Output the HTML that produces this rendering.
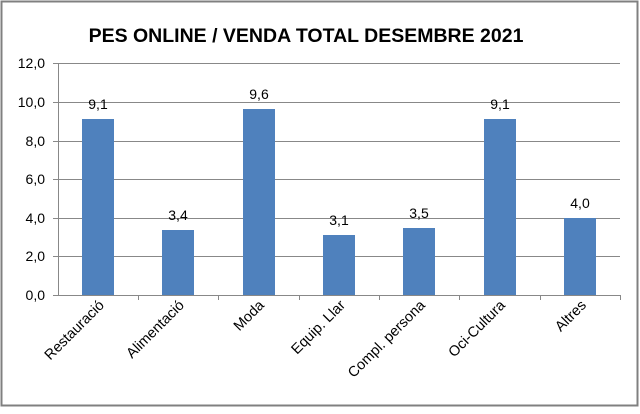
<!DOCTYPE html><html><head><style>body{margin:0;background:#fff}</style></head><body>
<svg width="640" height="409" xmlns="http://www.w3.org/2000/svg" font-family="Liberation Sans, sans-serif">
<rect x="1.5" y="1.5" width="636" height="404" fill="#fff" stroke="#808080" stroke-width="2"/>
<text x="306" y="42" text-anchor="middle" font-size="19.5" font-weight="bold">PES ONLINE / VENDA TOTAL DESEMBRE 2021</text>
<g stroke="#888" stroke-width="1">
<line x1="53" y1="63.5" x2="620" y2="63.5"/><line x1="53" y1="102.5" x2="620" y2="102.5"/><line x1="53" y1="141.5" x2="620" y2="141.5"/><line x1="53" y1="179.5" x2="620" y2="179.5"/><line x1="53" y1="218.5" x2="620" y2="218.5"/><line x1="53" y1="256.5" x2="620" y2="256.5"/><line x1="53" y1="295.5" x2="620" y2="295.5"/>
<line x1="58.5" y1="63" x2="58.5" y2="295"/>
<line x1="138.5" y1="295" x2="138.5" y2="300"/><line x1="218.5" y1="295" x2="218.5" y2="300"/><line x1="299.5" y1="295" x2="299.5" y2="300"/><line x1="379.5" y1="295" x2="379.5" y2="300"/><line x1="459.5" y1="295" x2="459.5" y2="300"/><line x1="540.5" y1="295" x2="540.5" y2="300"/><line x1="620.5" y1="295" x2="620.5" y2="300"/>
</g>
<g font-size="14" text-anchor="end"><text x="45" y="68">12,0</text><text x="45" y="107">10,0</text><text x="45" y="146">8,0</text><text x="45" y="184">6,0</text><text x="45" y="223">4,0</text><text x="45" y="261">2,0</text><text x="45" y="300">0,0</text></g>
<g fill="#4f81bd">
<rect x="82" y="119" width="32" height="176"/>
<rect x="162" y="230" width="32" height="65"/>
<rect x="243" y="109" width="32" height="186"/>
<rect x="323" y="235" width="32" height="60"/>
<rect x="403" y="228" width="32" height="67"/>
<rect x="484" y="119" width="32" height="176"/>
<rect x="564" y="218" width="32" height="77"/>
</g>
<g font-size="14" text-anchor="middle"><text x="98" y="109">9,1</text><text x="178" y="220">3,4</text><text x="259" y="99">9,6</text><text x="339" y="225">3,1</text><text x="419" y="218">3,5</text><text x="500" y="109">9,1</text><text x="580" y="208">4,0</text></g>
<g font-size="14.5" text-anchor="end">
<text transform="translate(105,306) rotate(-45)">Restauració</text>
<text transform="translate(185,306) rotate(-45)">Alimentació</text>
<text transform="translate(265,306) rotate(-45)">Moda</text>
<text transform="translate(346,306) rotate(-45)">Equip. Llar</text>
<text transform="translate(426,306) rotate(-45)">Compl. persona</text>
<text transform="translate(506,306) rotate(-45)">Oci-Cultura</text>
<text transform="translate(587,306) rotate(-45)">Altres</text>
</g>
</svg></body></html>
